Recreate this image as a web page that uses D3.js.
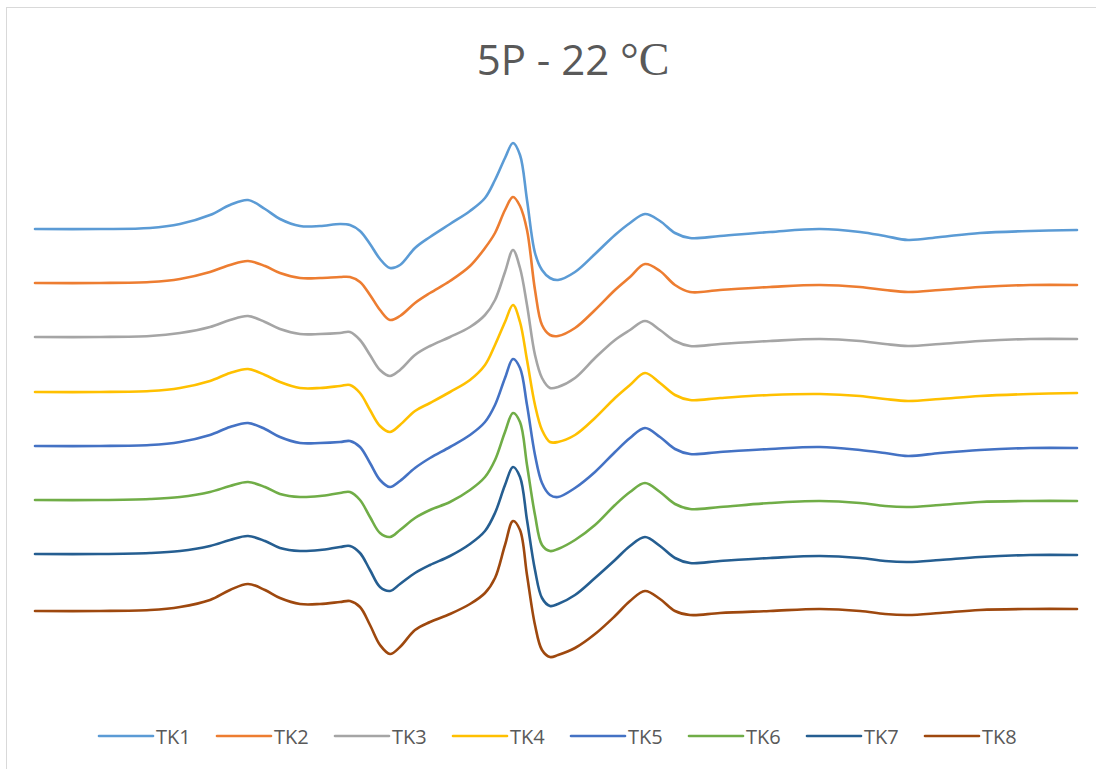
<!DOCTYPE html>
<html>
<head>
<meta charset="utf-8">
<script src="https://cdn.jsdelivr.net/npm/d3@7"></script>
<style>
  html, body { margin: 0; padding: 0; background: #fff; }
  svg { display: block; }
</style>
</head>
<body>
<svg id="chart" width="1096" height="769"></svg>
<script>
// Magnetic field positions (arbitrary units, shared by all spectra)
const field = [0,65,115,145,175,195,213,230,245,265,285,305,315,325,335,345,355,365,380,395,
  415,435,450,460,470,478,485,492,500,507,515,523,540,560,580,595,610,625,640,655,
  685,735,785,825,850,873,905,945,995,1042];

// Stacked spectra (intensity incl. vertical offset, arbitrary units)
const TK1 = [0,0,1,5,14,24,29,20,10,3,3,5,4,-2,-15,-30,-39,-36,-19,-8,5,18,31,49,71,86,74,29,-24,-41,-49,-51,-43,-25,-6,6,15,8,-4,-9,-7,-3,0,-3,-7,-11,-8,-4,-2,-1];
const TK2 = [-54,-54,-53,-50,-43,-36,-32,-37,-44,-49,-49,-48,-48,-53,-66,-81,-91,-87,-74,-64,-52,-37,-19,-4,19,32,23,-1,-61,-96,-106,-107,-99,-81,-61,-48,-35,-42,-56,-63,-61,-58,-56,-58,-61,-63,-61,-58,-56,-56];
const TK3 = [-108,-108,-107,-104,-98,-91,-87,-93,-100,-105,-105,-104,-103,-111,-126,-141,-147,-141,-126,-117,-108,-98,-86,-71,-43,-21,-39,-76,-126,-149,-159,-158,-149,-129,-111,-101,-92,-101,-112,-117,-115,-112,-110,-112,-115,-117,-115,-112,-110,-110];
const TK4 = [-163,-163,-162,-159,-152,-144,-140,-146,-153,-159,-159,-157,-156,-164,-181,-197,-203,-196,-182,-174,-163,-151,-136,-116,-93,-76,-93,-131,-176,-201,-213,-213,-206,-189,-169,-156,-144,-154,-166,-171,-169,-166,-165,-167,-170,-172,-170,-167,-165,-164];
const TK5 = [-217,-217,-216,-213,-206,-198,-194,-200,-208,-214,-214,-213,-212,-218,-234,-251,-258,-252,-239,-229,-218,-206,-193,-176,-149,-130,-139,-176,-226,-254,-266,-268,-259,-243,-223,-209,-199,-208,-220,-225,-223,-220,-218,-221,-224,-227,-224,-221,-219,-219];
const TK6 = [-271,-271,-270,-268,-263,-257,-253,-258,-265,-268,-267,-264,-263,-271,-288,-304,-308,-301,-289,-281,-273,-261,-248,-231,-203,-184,-193,-236,-286,-316,-322,-320,-311,-296,-276,-263,-254,-263,-275,-280,-278,-274,-272,-274,-277,-278,-276,-273,-272,-272];
const TK7 = [-325,-325,-324,-322,-317,-311,-307,-312,-319,-322,-321,-318,-317,-324,-341,-358,-362,-355,-344,-336,-327,-315,-302,-284,-256,-238,-248,-291,-341,-369,-377,-375,-366,-349,-331,-317,-308,-317,-329,-334,-332,-329,-327,-329,-332,-333,-331,-328,-326,-326];
const TK8 = [-382,-382,-381,-378,-371,-361,-355,-361,-369,-375,-375,-373,-372,-378,-396,-416,-425,-418,-401,-393,-385,-375,-364,-349,-316,-292,-301,-346,-396,-421,-428,-426,-419,-405,-387,-372,-362,-370,-382,-386,-384,-382,-380,-382,-385,-386,-384,-381,-380,-380];

const seriesNames = ["TK1","TK2","TK3","TK4","TK5","TK6","TK7","TK8"];
const seriesValues = [TK1, TK2, TK3, TK4, TK5, TK6, TK7, TK8];
const seriesColors = ["#5B9BD5","#ED7D31","#A5A5A5","#FFC000","#4472C4","#70AD47","#255E91","#9E480E"];

const title = "5P - 22 ";
const titleUnit = "°C";

const svg = d3.select("#chart");
const W = 1096, H = 769;

// chart frame
svg.append("rect")
  .attr("x", 6.5).attr("y", 7.5)
  .attr("width", W + 20).attr("height", H + 20)
  .attr("fill", "#fff")
  .attr("stroke", "#d9d9d9")
  .attr("stroke-width", 1);

const x = d3.scaleLinear().domain([0, 1042]).range([35, 1077]);
const y = d3.scaleLinear().domain([-460, 120]).range([689, 109]);

const line = d3.line()
  .x((d, i) => x(field[i]))
  .y(d => y(d))
  .curve(d3.curveCatmullRom.alpha(0.5));

const plot = svg.append("g");
seriesValues.forEach((vals, k) => {
  plot.append("path")
    .datum(vals)
    .attr("d", line)
    .attr("fill", "none")
    .attr("stroke", seriesColors[k])
    .attr("stroke-width", 2.6)
    .attr("stroke-linejoin", "round")
    .attr("stroke-linecap", "round");
});

// title
const t = svg.append("text")
  .attr("x", 573).attr("y", 75)
  .attr("text-anchor", "middle")
  .attr("fill", "#595959")
  .attr("font-size", 42);
t.append("tspan").attr("font-family", "'Open Sans', 'Liberation Sans', sans-serif").text(title);
t.append("tspan").attr("font-family", "'Liberation Serif', 'DejaVu Serif', serif")
  .attr("font-size", 46).text(titleUnit);

// legend
const legend = svg.append("g");
const legX = d3.scaleBand().domain(seriesNames).range([99, 99 + 118 * 8]);
seriesNames.forEach((name, k) => {
  const g = legend.append("g").attr("transform", `translate(${legX(name)},736)`);
  g.append("line")
    .attr("x1", 0).attr("x2", 54).attr("y1", 0).attr("y2", 0)
    .attr("stroke", seriesColors[k]).attr("stroke-width", 2.6)
    .attr("stroke-linecap", "round");
  g.append("text")
    .attr("x", 57).attr("y", 7.5)
    .attr("fill", "#595959")
    .attr("font-family", "'Open Sans', 'Liberation Sans', sans-serif")
    .attr("font-size", 20)
    .text(name);
});
</script>
</body>
</html>
